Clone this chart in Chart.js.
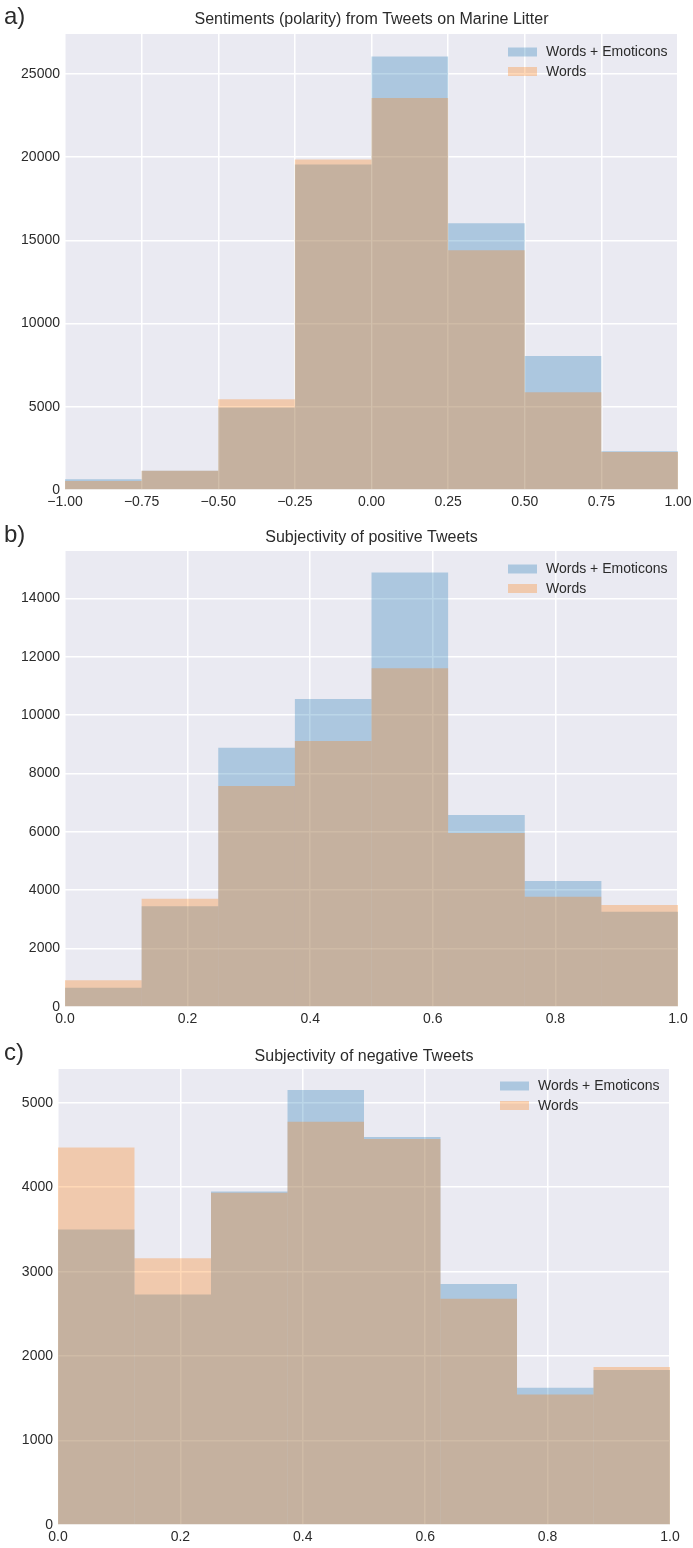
<!DOCTYPE html>
<html><head><meta charset="utf-8">
<script src="https://cdn.jsdelivr.net/npm/chart.js@4.4.1/dist/chart.umd.min.js"></script>
<style>
html,body{margin:0;padding:0;background:#fff}
body{width:693px;height:1548px;position:relative;overflow:hidden}
canvas{position:absolute;left:0;display:block}
</style></head><body>
<canvas id="ca" width="693" height="515" style="top:0"></canvas>
<canvas id="cb" width="693" height="525" style="top:515px"></canvas>
<canvas id="cc" width="693" height="508" style="top:1040px"></canvas>
<script>
// ---- data ----
const seriesLabels = ['Words + Emoticons', 'Words'];

const polarityEdges = [-1, -0.75, -0.5, -0.25, 0, 0.25, 0.5, 0.75, 1];
const polarityWordsEmoticons = [650, 1150, 4950, 19560, 26050, 16030, 8050, 2330];
const polarityWords = [540, 1150, 5450, 19860, 23560, 14400, 5870, 2290];
const polarityTicksX = [-1, -0.75, -0.5, -0.25, 0, 0.25, 0.5, 0.75, 1];
const polarityTicksY = [0, 5000, 10000, 15000, 20000, 25000];

const subjEdges = [0, 0.125, 0.25, 0.375, 0.5, 0.625, 0.75, 0.875, 1];
const positiveWordsEmoticons = [660, 3450, 8880, 10550, 14880, 6580, 4320, 3260];
const positiveWords = [920, 3710, 7570, 9110, 11600, 5960, 3780, 3490];
const positiveTicksY = [0, 2000, 4000, 6000, 8000, 10000, 12000, 14000];

const negativeWordsEmoticons = [3500, 2730, 3950, 5150, 4595, 2855, 1625, 1835];
const negativeWords = [4470, 3160, 3935, 4775, 4570, 2680, 1545, 1870];
const negativeTicksY = [0, 1000, 2000, 3000, 4000, 5000];

const subjTicksX = [0, 0.2, 0.4, 0.6, 0.8, 1.0];

// ---- styling ----
const FONT = '"Liberation Sans", Arial, Helvetica, sans-serif';
const TXT = '#2b2b2b';
const BLUE = 'rgba(31,119,180,0.3)';
const ORANGE = 'rgba(255,127,14,0.3)';

const decor = {
  id: 'decor',
  beforeDraw(chart, args, o) {
    const {ctx, chartArea: a} = chart;
    ctx.save();
    ctx.fillStyle = '#EAEAF2';
    ctx.fillRect(a.left, a.top, a.right - a.left, a.bottom - a.top);
    ctx.restore();
  },
  afterDraw(chart, args, o) {
    const {ctx, chartArea: a} = chart;
    ctx.save();
    ctx.fillStyle = TXT;
    ctx.textBaseline = 'middle';
    ctx.font = '16px ' + FONT;
    ctx.textAlign = 'center';
    ctx.fillText(o.title, (a.left + a.right) / 2, o.titleY);
    ctx.font = '24px ' + FONT;
    ctx.textAlign = 'left';
    ctx.fillText(o.letter, 4, o.letterY);
    ctx.font = '14px ' + FONT;
    chart.data.datasets.forEach((ds, i) => {
      const y = a.top + o.legendTop + i * 19.5;
      ctx.fillStyle = ds.backgroundColor;
      ctx.fillRect(a.right - o.legendRight, y - 4.5, 29, 9);
      ctx.fillStyle = TXT;
      ctx.fillText(ds.label, a.right - o.legendRight + 38, y + 0.5);
    });
    ctx.restore();
  }
};

function makeHist(id, cfg) {
  const centers = cfg.edges.slice(0, -1).map((e, i) => (e + cfg.edges[i + 1]) / 2);
  const H = document.getElementById(id).height;
  return new Chart(document.getElementById(id), {
    type: 'bar',
    data: {
      datasets: [
        {label: seriesLabels[0], data: centers.map((c, i) => ({x: c, y: cfg.a[i]})), backgroundColor: BLUE, order: 2},
        {label: seriesLabels[1], data: centers.map((c, i) => ({x: c, y: cfg.b[i]})), backgroundColor: ORANGE, order: 1}
      ]
    },
    options: {
      responsive: false,
      animation: false,
      events: [],
      layout: {padding: {top: cfg.top, right: 693 - cfg.right, left: 0, bottom: 0}},
      datasets: {bar: {grouped: false, barPercentage: 1, categoryPercentage: 1, borderWidth: 0, inflateAmount: 0}},
      plugins: {
        legend: {display: false}, title: {display: false}, tooltip: {enabled: false},
        decor: {title: cfg.title, titleY: cfg.titleY, letter: cfg.letter, letterY: cfg.letterY, legendTop: cfg.legendTop, legendRight: cfg.legendRight}
      },
      scales: {
        x: {
          type: 'linear', min: cfg.edges[0], max: cfg.edges[cfg.edges.length - 1], offset: false,
          grid: {color: '#ffffff', lineWidth: 1.5, offset: false, drawTicks: false},
          border: {display: false},
          ticks: {padding: 4, color: TXT, font: {size: 14, family: FONT}, maxRotation: 0, autoSkip: false,
                  callback: v => cfg.fmtX(v)},
          afterBuildTicks: s => { s.ticks = cfg.ticksX.map(v => ({value: v})); },
          afterFit: s => { s.paddingLeft = 0; s.paddingRight = 0; s.height = H - cfg.bottom; }
        },
        y: {
          min: 0, max: cfg.ymax,
          grid: {color: '#ffffff', lineWidth: 1.5, drawTicks: false},
          border: {display: false},
          ticks: {padding: 5, color: TXT, font: {size: 14, family: FONT}, callback: v => String(v)},
          afterBuildTicks: s => { s.ticks = cfg.ticksY.map(v => ({value: v})); },
          afterFit: s => { s.width = cfg.left; s.paddingTop = 0; s.paddingBottom = 0; }
        }
      }
    },
    plugins: [decor]
  });
}

const minusFmt = d => v => Number(v).toFixed(d).replace('-', '\u2212');

makeHist('ca', {
  edges: polarityEdges, a: polarityWordsEmoticons, b: polarityWords,
  ticksX: polarityTicksX, ticksY: polarityTicksY, fmtX: minusFmt(2), ymax: 27400,
  left: 65, right: 678, top: 34, bottom: 490,
  title: 'Sentiments (polarity) from Tweets on Marine Litter', titleY: 20, letter: 'a)', letterY: 17,
  legendTop: 18, legendRight: 170
});
makeHist('cb', {
  edges: subjEdges, a: positiveWordsEmoticons, b: positiveWords,
  ticksX: subjTicksX, ticksY: positiveTicksY, fmtX: minusFmt(1), ymax: 15620,
  left: 65, right: 678, top: 36, bottom: 492,
  title: 'Subjectivity of positive Tweets', titleY: 23, letter: 'b)', letterY: 20,
  legendTop: 18, legendRight: 170
});
makeHist('cc', {
  edges: subjEdges, a: negativeWordsEmoticons, b: negativeWords,
  ticksX: subjTicksX, ticksY: negativeTicksY, fmtX: minusFmt(1), ymax: 5400,
  left: 58, right: 670, top: 29, bottom: 485,
  title: 'Subjectivity of negative Tweets', titleY: 17, letter: 'c)', letterY: 13,
  legendTop: 17, legendRight: 170
});
</script>
</body></html>
